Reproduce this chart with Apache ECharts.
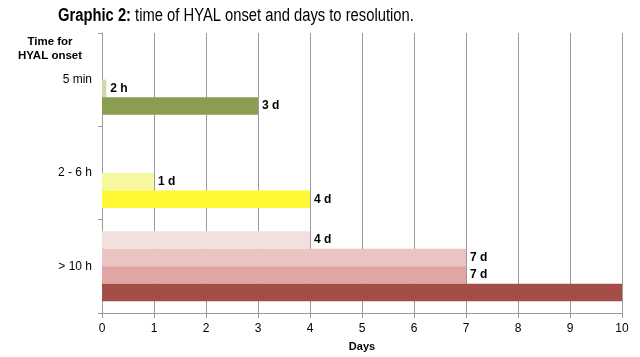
<!DOCTYPE html>
<html><head><meta charset="utf-8">
<script src="https://cdn.jsdelivr.net/npm/echarts@6/dist/echarts.min.js"></script>
<style>html,body{margin:0;padding:0;background:#fff}#c{width:640px;height:357px}</style>
</head><body><div id="c"></div>
<script>
// Categories (top to bottom)
const categories = ['5 min', '2 - 6 h', '> 10 h'];
// Bar slots within each category, top to bottom (days)
const slot1 = [null, null, 4];
const slot2 = [null, null, 7];
const slot3 = [0.083, 1, 7];
const slot4 = [3, 4, 10];
// Bar labels
const labels1 = ['', '', '4 d'];
const labels2 = ['', '', '7 d'];
const labels3 = ['2 h', '1 d', '7 d'];
const labels4 = ['3 d', '4 d', ''];

const colors1 = ['#f2e0df', '#f2e0df', '#f2e0df'];
const colors2 = ['#eac3c3', '#eac3c3', '#eac3c3'];
const colors3 = ['#cbd9ad', '#f8f99e', '#e0a6a4'];
const colors4 = ['#8a9d50', '#fef835', '#a44e48'];

const FONT = 'Liberation Sans, Arial, sans-serif';

function mk(vals, cols, labs) {
  return {
    type: 'bar',
    barWidth: 17.5,
    barGap: '0%',
    data: vals.map((v, i) => ({ value: v, itemStyle: { color: cols[i] } })),
    label: {
      show: true, position: 'right', distance: 4,
      fontFamily: FONT, fontWeight: 'bold', fontSize: 12, color: '#000',
      padding: [3, 0, 0, 0],
      formatter: p => labs[p.dataIndex]
    },
    silent: true
  };
}

const chart = echarts.init(document.getElementById('c'), null, { renderer: 'canvas' });
chart.setOption({
  animation: false,
  backgroundColor: '#fff',
  textStyle: { fontFamily: FONT },
  graphic: [{
    type: 'text', x: 58, y: 7, scaleX: 0.82, scaleY: 1,
    style: {
      text: '{b|Graphic 2:} time of HYAL onset and days to resolution.',
      fontFamily: FONT, fontSize: 18, fill: '#000',
      rich: { b: { fontFamily: FONT, fontSize: 18, fontWeight: 'bold', fill: '#000' } }
    }
  }, {
    type: 'text', x: 50, y: 35,
    style: { text: 'Time for\nHYAL onset', fontFamily: FONT, fontSize: 11.5, fontWeight: 'bold', fill: '#000', align: 'center', lineHeight: 14 }
  }],
  grid: { left: 102, right: 18, top: 33, bottom: 42 },
  xAxis: {
    type: 'value', min: 0, max: 10, interval: 1,
    name: 'Days', nameLocation: 'middle', nameGap: 28,
    nameTextStyle: { fontFamily: FONT, fontWeight: 'bold', fontSize: 11, color: '#000' },
    axisLine: { show: true, lineStyle: { color: '#9a9a9a', width: 1 } },
    axisTick: { show: true, length: 5, lineStyle: { color: '#9a9a9a' } },
    axisLabel: { fontFamily: FONT, fontSize: 12, color: '#000', margin: 10 },
    splitLine: { show: true, lineStyle: { color: '#9a9a9a', width: 1 } }
  },
  yAxis: {
    type: 'category', inverse: true, data: categories,
    axisLine: { show: true, lineStyle: { color: '#9a9a9a', width: 1 } },
    axisTick: { show: true, length: 4, lineStyle: { color: '#9a9a9a' } },
    axisLabel: { fontFamily: FONT, fontSize: 12, color: '#000', margin: 10 },
    splitLine: { show: false }
  },
  series: [
    mk(slot1, colors1, labels1),
    mk(slot2, colors2, labels2),
    mk(slot3, colors3, labels3),
    mk(slot4, colors4, labels4)
  ]
});
</script>
</body></html>
